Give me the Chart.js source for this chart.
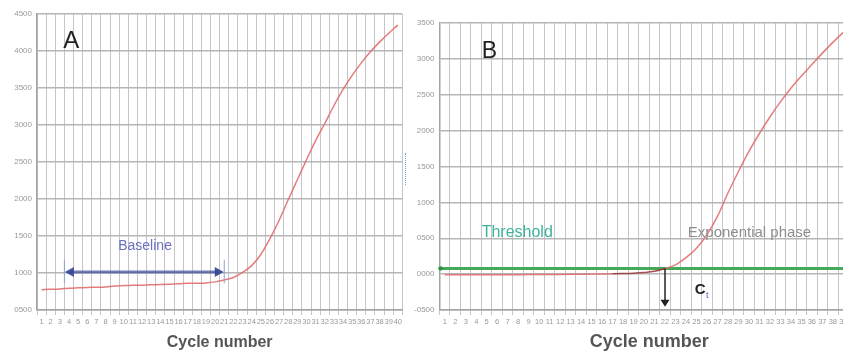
<!DOCTYPE html>
<html>
<head>
<meta charset="utf-8">
<script src="https://cdn.jsdelivr.net/npm/chart.js@4/dist/chart.umd.min.js"></script>
<style>
  html, body { margin: 0; padding: 0; background: #fff; width: 843px; height: 351px; overflow: hidden; }
  .panel { position: absolute; top: 0; }
  #wrapA { left: 0; width: 404px; height: 351px; }
  #wrapB { left: 403px; width: 457px; height: 351px; }
  #cursor { position: absolute; left: 405px; top: 153px; height: 32px; border-left: 1.5px dotted #6d9fe6; }
</style>
</head>
<body>
<div class="panel" id="wrapA"><canvas id="chartA" width="404" height="351"></canvas></div>
<div class="panel" id="wrapB"><canvas id="chartB" width="457" height="351"></canvas></div>
<div id="cursor"></div>
<script>
// PCR cycles 1..40
const cycles = ['1','2','3','4','5','6','7','8','9','10','11','12','13','14','15','16','17','18','19','20',
                '21','22','23','24','25','26','27','28','29','30','31','32','33','34','35','36','37','38','39','40'];

// Raw fluorescence (panel A)
const rawFluorescence = [775, 780, 785, 795, 800, 805, 808, 812, 825, 830,
                         833, 836, 840, 843, 848, 855, 860, 862, 866, 880,
                         905, 940, 1010, 1100, 1250, 1465, 1710, 1990, 2260, 2530,
                         2790, 3020, 3260, 3480, 3670, 3840, 3990, 4120, 4240, 4350];

// Baseline-corrected fluorescence (panel B)
const normFluorescence = [-10, -10, -10, -9, -9, -8, -8, -7, -6, -5,
                          -5, -4, -3, -2, 0, 2, 4, 7, 12, 22,
                          40, 78, 130, 230, 360, 550, 805, 1130, 1430, 1710,
                          1960, 2190, 2400, 2590, 2760, 2920, 3080, 3230, 3370, 3490];

// Threshold level and baseline window (in cycles)
const thresholdLevel = 80;
const baselineCycles = [3.5, 21];
const ctCycle = 22;

const yTicksA = [500, 4500];
const yTicksB = [-500, 3500];

const FONT = "'Liberation Sans', Arial, sans-serif";
const fmtTick = v => (v < 0 ? '-' : '') + String(Math.abs(v)).padStart(4, '0');

function arrowHead(ctx, x, y, dx, dy, len, half) {
  // tip at (x,y), pointing in direction (dx,dy)
  const nx = -dy, ny = dx;
  ctx.beginPath();
  ctx.moveTo(x, y);
  ctx.lineTo(x - dx * len + nx * half, y - dy * len + ny * half);
  ctx.lineTo(x - dx * len - nx * half, y - dy * len - ny * half);
  ctx.closePath();
  ctx.fill();
}

function baseOptions(range, yWidth, padTop, padRight, titleSize) {
  return {
    responsive: false,
    animation: false,
    events: [],
    layout: { padding: { top: padTop, left: 0, right: padRight, bottom: 0 } },
    plugins: { legend: { display: false }, tooltip: { enabled: false } },
    elements: { point: { radius: 0 } },
    scales: {
      x: {
        type: 'category',
        offset: true,
        grid: { offset: true, color: '#c6c6c6', lineWidth: 1, drawTicks: true, tickLength: 5, tickColor: '#c6c6c6' },
        border: { display: true, color: '#a4a4a4', width: 1.5 },
        ticks: { autoSkip: false, maxRotation: 0, minRotation: 0, padding: 2, color: '#999',
                 font: { family: FONT, size: 7.5 } },
        title: { display: true, text: 'Cycle number', color: '#555', padding: { top: 0, bottom: 0 },
                 font: { family: FONT, size: titleSize, weight: 'bold', lineHeight: 1.05 } },
        afterFit: s => { s.height = 41; }
      },
      y: {
        min: range[0], max: range[1],
        grid: { color: '#b6b6b6', lineWidth: 1.5, drawTicks: false },
        border: { display: true, color: '#a4a4a4', width: 1.5 },
        ticks: { stepSize: 500, padding: 5, color: '#999', callback: v => fmtTick(v),
                 font: { family: FONT, size: 8 } },
        afterFit: s => { s.width = yWidth; }
      }
    }
  };
}

// Panel A annotations: panel letter, baseline window arrow and label
const annotateA = {
  id: 'annotateA',
  afterDatasetsDraw(chart) {
    const { ctx, scales: { x, y } } = chart;
    const px = c => x.getPixelForValue(c - 1);
    ctx.save();
    ctx.fillStyle = '#222';
    ctx.font = `24px ${FONT}`;
    ctx.textAlign = 'center';
    ctx.textBaseline = 'middle';
    ctx.fillText('A', px(4.26), y.getPixelForValue(4135));

    const x0 = px(baselineCycles[0]), x1 = px(baselineCycles[1]);
    // window limits
    ctx.strokeStyle = '#8fa2d8';
    ctx.lineWidth = 1;
    [x0, x1].forEach(xx => {
      ctx.beginPath();
      ctx.moveTo(xx, y.getPixelForValue(1180));
      ctx.lineTo(xx, y.getPixelForValue(860));
      ctx.stroke();
    });
    // double arrow
    const ay = y.getPixelForValue(1015);
    ctx.strokeStyle = 'rgba(66,82,162,0.75)';
    ctx.fillStyle = 'rgba(50,66,150,0.9)';
    ctx.lineWidth = 3;
    ctx.beginPath();
    ctx.moveTo(x0 + 6, ay);
    ctx.lineTo(x1 - 6, ay);
    ctx.stroke();
    arrowHead(ctx, x0 + 0.5, ay, -1, 0, 9, 5);
    arrowHead(ctx, x1 - 0.5, ay, 1, 0, 9, 5);

    ctx.fillStyle = '#6a70c2';
    ctx.font = `14px ${FONT}`;
    ctx.fillText('Baseline', px(12.33), y.getPixelForValue(1365));
    ctx.restore();
  }
};

// Panel B annotations: threshold line, Ct marker and labels
const annotateB = {
  id: 'annotateB',
  beforeDatasetsDraw(chart) {
    const { ctx, chartArea, scales: { y } } = chart;
    const ty = y.getPixelForValue(thresholdLevel);
    ctx.save();
    ctx.strokeStyle = '#45a95a';
    ctx.lineWidth = 3;
    ctx.beginPath();
    ctx.moveTo(chartArea.left, ty);
    ctx.lineTo(chartArea.right, ty);
    ctx.stroke();
    ctx.fillStyle = '#2f8f45';
    ctx.beginPath();
    ctx.arc(chartArea.left + 1, ty, 2.2, 0, Math.PI * 2);
    ctx.fill();
    ctx.restore();
  },
  afterDatasetsDraw(chart) {
    const { ctx, scales: { x, y } } = chart;
    const px = c => x.getPixelForValue(c - 1);
    ctx.save();
    ctx.textBaseline = 'middle';
    ctx.fillStyle = '#222';
    ctx.font = `23px ${FONT}`;
    ctx.textAlign = 'center';
    ctx.fillText('B', px(5.26), y.getPixelForValue(3103));

    ctx.textAlign = 'left';
    ctx.fillStyle = '#3db39c';
    ctx.font = `16px ${FONT}`;
    ctx.fillText('Threshold', px(4.52), y.getPixelForValue(577));
    ctx.fillStyle = '#8e8e8e';
    ctx.font = `15px ${FONT}`;
    ctx.fillText('Exponential phase', px(24.17), y.getPixelForValue(577));

    // Ct arrow
    const cx = px(ctCycle);
    const top = y.getPixelForValue(thresholdLevel);
    const bot = y.getPixelForValue(-454);
    ctx.strokeStyle = '#222';
    ctx.fillStyle = '#222';
    ctx.lineWidth = 1.5;
    ctx.beginPath();
    ctx.moveTo(cx, top);
    ctx.lineTo(cx, bot - 6);
    ctx.stroke();
    arrowHead(ctx, cx, bot, 0, 1, 7, 4.5);

    const lx = px(24.83), ly = y.getPixelForValue(-221);
    ctx.font = `bold 15px ${FONT}`;
    ctx.fillText('C', lx, ly);
    const w = ctx.measureText('C').width;
    ctx.fillStyle = '#4a66b8';
    ctx.font = `9px ${FONT}`;
    ctx.fillText('t', lx + w + 0.5, ly + 6);
    ctx.restore();
  }
};

const optsA = baseOptions(yTicksA, 37, 14, 0.5, 16);
new Chart(document.getElementById('chartA'), {
  type: 'line',
  data: {
    labels: cycles,
    datasets: [{
      data: rawFluorescence,
      borderColor: 'rgba(226,110,110,0.9)',
      borderWidth: 1.5,
      cubicInterpolationMode: 'monotone',
      fill: false
    }]
  },
  options: optsA,
  plugins: [annotateA]
});

const optsB = baseOptions(yTicksB, 36.5, 23, 0, 18);
new Chart(document.getElementById('chartB'), {
  type: 'line',
  data: {
    labels: cycles,
    datasets: [{
      data: normFluorescence,
      borderColor: 'rgba(226,110,110,0.9)',
      borderWidth: 1.5,
      cubicInterpolationMode: 'monotone',
      fill: false,
      segment: {
        borderColor: c => (c.p0DataIndex >= 16 && c.p0DataIndex <= 20) ? 'rgba(150,50,50,0.85)' : undefined
      }
    }]
  },
  options: optsB,
  plugins: [annotateB]
});
</script>
</body>
</html>
